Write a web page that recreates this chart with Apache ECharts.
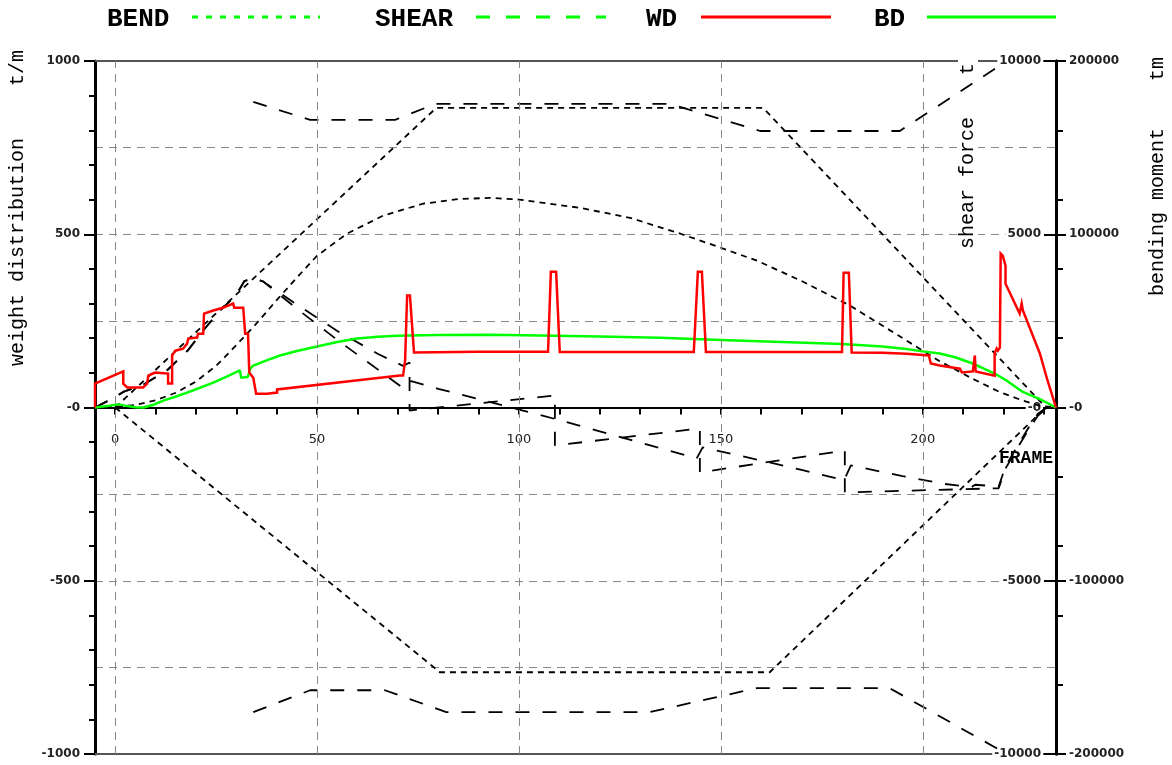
<!DOCTYPE html>
<html>
<head>
<meta charset="utf-8">
<script src="https://cdn.jsdelivr.net/npm/echarts@6/dist/echarts.min.js"></script>
<style>
  html, body { margin: 0; padding: 0; background: #fff; }
  #chart { width: 1172px; height: 765px; }
</style>
</head>
<body>
<div id="chart"></div>
<script>
// Longitudinal strength: weight / buoyancy distribution, shear force and bending moment
// x = frame position (m)

// weight distribution (t/m)
const weightDist = [
  [-5,0],[-5,69],[2,104],[2,69],[3,58],[6.9,58],[7.9,69],[8.2,92],[9.9,101],[13.1,98],[13.1,69],
  [14.1,69],[14.1,150],[14.9,164],[16.8,170],[17.8,184],[18.1,199],[20.3,202],[20.5,213],[21.8,213],
  [22,271],[24.3,280],[26.7,288],[28,294],[29.2,300],[29.5,288],[31.7,288],[32.2,213],[32.9,213],
  [33.2,101],[34.2,86],[34.9,40],[37.6,40],[40.1,43],[40.1,52],[70.5,92],[71.3,92],[71.8,135],
  [72.3,323],[73,323],[74,159],[90,161],[107.2,161],[107.9,392],[109.2,392],[110.1,160],[143.3,160],
  [144.3,392],[145.3,392],[146.3,160],[180,160],[180.4,389],[181.7,389],[182.4,159],[190,158],
  [196,155],[201.5,150],[202,127],[204.2,121],[209.2,112],[209.7,101],[212.4,104],[212.9,150],
  [213.1,104],[217.8,92],[217.8,156],[218.3,170],[218.6,164],[219.1,173],[219.3,444],[219.8,438],
  [220.5,409],[220.5,357],[224,271],[224.5,300],[224.8,280],[229,156],[230.9,78],[233,0]
];

// buoyancy distribution (t/m)
const buoyancyDist = [
  [-5,0],[-2,4],[0,8],[1,9],[3,4],[5,1],[7,0],[9.5,8],[11.9,20],[14.9,31],[17.8,43],[21,57],
  [24.3,72],[27.6,89],[30.9,107],[31.2,86],[32.9,89],[33.4,112],[34.2,121],[37.5,136],[40.8,150],
  [45,163],[50,176],[55,189],[59.9,199],[65,204],[69.8,207],[80,209],[92.8,210],[105,208],
  [120,205],[135,201],[150,195],[165,189],[180,183],[190,176],[196,169],[200,162],[204.2,156],
  [208,145],[212.4,127],[215,113],[217.8,98],[221,76],[224.8,45],[229,24],[233,0]
];

// shear force (t)
const shearForce = [
  [-5,0],[0,300],[2,450],[7,660],[13,1090],[18,1650],[22,2250],[26,2800],[30,3250],[32,3650],
  [34.2,3720],[36.6,3640],[45,2850],[55,1950],[65,1100],[71.3,560],[73.3,760],[80,540],[90,240],
  [100,-60],[108.9,-330],[120,-690],[130,-1010],[144,-1470],[145.5,-1150],[160,-1530],[170,-1800],
  [180.5,-2100],[182.2,-1670],[195,-1980],[205,-2200],[212,-2300],[213,-2230],[218.8,-2280],
  [220.5,-1700],[224,-1000],[226,-620],[228.5,-180],[230.5,-20],[232,0]
];

// corrected shear force at bulkheads (t)
const shearCorrected = [
  [-5,0],[0,300],[2,450],[7,660],[13,1090],[18,1650],[22,2250],[26,2800],[30,3250],[32,3650],
  [34.2,3720],[36.6,3640],[45,2970],[55,2210],[65,1550],[71.3,1200],[72.9,1300],[72.9,-86],
  [108.9,346],[108.9,-1095],[144.8,-605],[144.8,-1873],[180.7,-1240],[180.7,-2450],[218.8,-2330],
  [220.5,-1760],[224,-1060],[226,-680],[228.5,-240],[230.5,-40],[232,0]
];

// permissible shear force (t)
const shearLimitPos = [[34.2,8820],[48.3,8300],[69.3,8300],[79.2,8760],[137.4,8760],[159.7,7980],[194.3,7980],[219,9860]];
const shearLimitNeg = [[34.2,-8790],[48.3,-8160],[66.8,-8160],[82,-8790],[132.4,-8790],[158.9,-8100],[191.8,-8100],[219,-9880]];

// bending moment (tm)
const bendingMoment = [
  [-5,0],[0,400],[5,1500],[10,4200],[15,8500],[20,15000],[25,24000],[30,36000],[35,48500],[40,62000],
  [45,75000],[50,87600],[57.4,100300],[66.3,110700],[76.2,117600],[85,120300],[92.8,121000],
  [100,120000],[115,115300],[127.5,109500],[140,100300],[150,92200],[159,84700],[170,73000],
  [182,58800],[194,41500],[204,27000],[212,17000],[219,9000],[225,3800],[229,1000],[233,0]
];

// permissible bending moment (tm)
const bendLimitPos = [[0,0],[79.5,172900],[160.5,172900],[230.5,0]];
const bendLimitNeg = [[0,0],[80.4,-152800],[162.1,-152800],[230.5,0]];

// axis ticks
const frameTicks = [0,10,20,30,40,50,60,70,80,90,100,110,120,130,140,150,160,170,180,190,200,210,220,230];
const frameLabels = [0,50,100,150,200];
const frameGrid = [0,50,100,150,200];

const MONO = '"Liberation Mono", "DejaVu Sans Mono", monospace';
const SANS = '"DejaVu Sans", sans-serif';
const zeroMinus = v => (v === 0 ? '-0' : String(v));

const GRID = { left: 95, right: 116, top: 61, bottom: 11 };
const plotHeight = 765 - GRID.top - GRID.bottom;

const chart = echarts.init(document.getElementById('chart'), null, { renderer: 'canvas' });

const dashLong = [14, 13];
const dashShort = [6, 5];

function blackLine(name, data, yIdx, dash, z) {
  return {
    name, type: 'line', data, yAxisIndex: yIdx, xAxisIndex: 0,
    showSymbol: false, symbol: 'none', silent: true, z: z || 2,
    lineStyle: { color: '#000', width: 1.8, type: dash }
  };
}

const plainAxisX = (pos) => ({
  type: 'value', min: -5, max: 233, position: pos,
  axisLine: { show: true, onZero: false, lineStyle: { color: '#555', width: 2 } },
  axisTick: { show: false }, axisLabel: { show: false }, splitLine: { show: false }
});

const yBase = (extra) => Object.assign({
  type: 'value', splitLine: { show: false }
}, extra);

chart.setOption({
  animation: false,
  backgroundColor: '#fff',
  grid: Object.assign({ containLabel: false, outerBoundsMode: 'none' }, GRID),
  xAxis: [
    { // frame axis drawn along the zero line
      type: 'value', min: -5, max: 233, position: 'bottom', offset: -plotHeight / 2,
      axisLine: { show: true, onZero: false, lineStyle: { color: '#000', width: 2 } },
      axisTick: { show: true, customValues: frameTicks, length: 7, lineStyle: { color: '#000', width: 2 } },
      axisLabel: { show: true, customValues: frameLabels, margin: 26, fontFamily: SANS, fontSize: 13, color: '#222' },
      splitLine: { show: false }
    },
    plainAxisX('top'),
    plainAxisX('bottom')
  ],
  yAxis: [
    yBase({ // weight distribution, major
      min: -1000, max: 1000, interval: 500, position: 'left',
      axisLine: { show: true, onZero: false, lineStyle: { color: '#000', width: 3 } },
      axisTick: { show: true, length: 11, lineStyle: { color: '#000', width: 2 } },
      axisLabel: { formatter: zeroMinus, margin: 15, fontFamily: SANS, fontSize: 12, fontWeight: 'bold', color: '#222' }
    }),
    yBase({ // weight distribution, minor ticks
      min: -1000, max: 1000, interval: 100, position: 'left',
      axisLine: { show: false, onZero: false }, axisLabel: { show: false },
      axisTick: { show: true, length: 6, lineStyle: { color: '#000', width: 2 } }
    }),
    yBase({ // horizontal grid
      min: -1000, max: 1000, interval: 250, position: 'left',
      axisLine: { show: false, onZero: false }, axisTick: { show: false }, axisLabel: { show: false },
      splitLine: { show: true, lineStyle: { color: '#888', width: 1, type: [8, 6] } }
    }),
    yBase({ // shear force
      min: -10000, max: 10000, interval: 5000, position: 'right', offset: 0,
      axisLine: { show: true, onZero: false, lineStyle: { color: '#000', width: 3 } },
      axisTick: { show: true, inside: true, length: 12, lineStyle: { color: '#000', width: 2 } },
      axisLabel: { inside: true, formatter: zeroMinus, margin: 13, fontFamily: SANS, fontSize: 12, fontWeight: 'bold',
                   color: '#222', backgroundColor: '#fff', padding: [1, 2] }
    }),
    yBase({ // bending moment
      min: -200000, max: 200000, interval: 100000, position: 'right', offset: 0,
      axisLine: { show: true, onZero: false, lineStyle: { color: '#000', width: 3 } },
      axisTick: { show: true, length: 10, lineStyle: { color: '#000', width: 2 } },
      axisLabel: { formatter: zeroMinus, margin: 13, fontFamily: SANS, fontSize: 12, fontWeight: 'bold', color: '#222' }
    }),
    yBase({ // shear force, minor ticks
      min: -10000, max: 10000, interval: 2000, position: 'right', offset: 0,
      axisLine: { show: false, onZero: false }, axisLabel: { show: false },
      axisTick: { show: true, length: 7, lineStyle: { color: '#000', width: 2 } }
    })
  ],
  series: [
    { // vertical grid at frame stations
      type: 'line', data: [], xAxisIndex: 0, yAxisIndex: 0, silent: true, z: 1,
      markLine: {
        silent: true, symbol: 'none', label: { show: false },
        lineStyle: { color: '#888', width: 1, type: [8, 6] },
        data: frameGrid.map(v => ({ xAxis: v }))
      }
    },
    blackLine('BEND', bendingMoment, 4, dashShort),
    blackLine('BEND limit +', bendLimitPos, 4, dashShort),
    blackLine('BEND limit -', bendLimitNeg, 4, dashShort),
    blackLine('SHEAR', shearForce, 3, dashLong),
    blackLine('SHEAR corrected', shearCorrected, 3, dashLong),
    blackLine('SHEAR limit +', shearLimitPos, 3, dashLong),
    blackLine('SHEAR limit -', shearLimitNeg, 3, dashLong),
    {
      name: 'BD', type: 'line', data: buoyancyDist, yAxisIndex: 0, showSymbol: false, symbol: 'none', z: 4,
      lineStyle: { color: '#00ff00', width: 2.5 }
    },
    {
      name: 'WD', type: 'line', data: weightDist, yAxisIndex: 0, showSymbol: false, symbol: 'none', z: 5,
      lineStyle: { color: '#ff0000', width: 2.5, join: 'miter' }
    }
  ],
  graphic: [
    // legend
    { type: 'text', x: 107, y: 19, style: { text: 'BEND', font: 'bold 26px ' + MONO, fill: '#000', textVerticalAlign: 'middle' } },
    { type: 'line', shape: { x1: 192, y1: 17, x2: 320, y2: 17 }, style: { stroke: '#00ff00', lineWidth: 3, lineDash: [6, 8] } },
    { type: 'text', x: 375, y: 19, style: { text: 'SHEAR', font: 'bold 26px ' + MONO, fill: '#000', textVerticalAlign: 'middle' } },
    { type: 'line', shape: { x1: 476, y1: 17, x2: 606, y2: 17 }, style: { stroke: '#00ff00', lineWidth: 3, lineDash: [14, 16] } },
    { type: 'text', x: 646, y: 19, style: { text: 'WD', font: 'bold 26px ' + MONO, fill: '#000', textVerticalAlign: 'middle' } },
    { type: 'line', shape: { x1: 701, y1: 17, x2: 831, y2: 17 }, style: { stroke: '#ff0000', lineWidth: 3 } },
    { type: 'text', x: 874, y: 19, style: { text: 'BD', font: 'bold 26px ' + MONO, fill: '#000', textVerticalAlign: 'middle' } },
    { type: 'line', shape: { x1: 927, y1: 17, x2: 1056, y2: 17 }, style: { stroke: '#00ff00', lineWidth: 3 } },

    // axis titles
    { type: 'text', x: 18, y: 252, rotation: Math.PI / 2, z: 10,
      style: { text: 'weight distribution', font: '20px ' + MONO, fill: '#000', textAlign: 'center', textVerticalAlign: 'middle' } },
    { type: 'text', x: 18, y: 68, rotation: Math.PI / 2, z: 10,
      style: { text: 't/m', font: '20px ' + MONO, fill: '#000', textAlign: 'center', textVerticalAlign: 'middle' } },
    { type: 'text', x: 968, y: 183, rotation: Math.PI / 2, z: 10,
      style: { text: 'shear force', font: '20px ' + MONO, fill: '#000', textAlign: 'center', textVerticalAlign: 'middle',
               backgroundColor: '#fff', padding: [0, 3] } },
    { type: 'text', x: 968, y: 69, rotation: Math.PI / 2, z: 10,
      style: { text: 't', font: '20px ' + MONO, fill: '#000', textAlign: 'center', textVerticalAlign: 'middle',
               backgroundColor: '#fff', padding: [0, 3] } },
    { type: 'text', x: 1158, y: 212, rotation: Math.PI / 2, z: 10,
      style: { text: 'bending moment', font: '20px ' + MONO, fill: '#000', textAlign: 'center', textVerticalAlign: 'middle' } },
    { type: 'text', x: 1158, y: 69, rotation: Math.PI / 2, z: 10,
      style: { text: 'tm', font: '20px ' + MONO, fill: '#000', textAlign: 'center', textVerticalAlign: 'middle' } },

    // frame axis caption
    { type: 'text', x: 1026, y: 458, z: 10,
      style: { text: 'FRAME', font: 'bold 18px ' + MONO, fill: '#000', textAlign: 'center', textVerticalAlign: 'middle' } }
  ]
});
</script>
</body>
</html>
